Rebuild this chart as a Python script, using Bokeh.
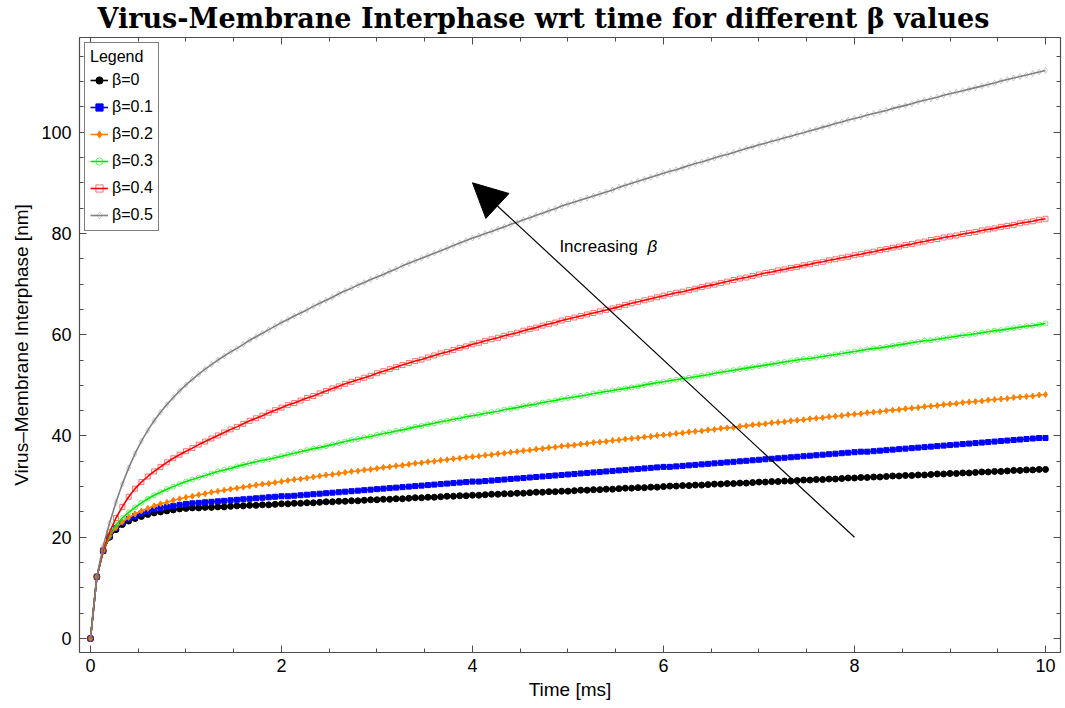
from bokeh.plotting import figure
from bokeh.models import (Range1d, LinearAxis, SingleIntervalTicker, Legend,
                          LegendItem, Arrow, NormalHead, Label, CustomLabelingPolicy)
from bokeh.embed import file_html
from bokeh.resources import INLINE

# sampling times [ms], step 1/15 ms from 0 to 10
time_ms = [round(k / 15, 4) for k in range(151)]

beta_labels = ["β=0", "β=0.1", "β=0.2", "β=0.3", "β=0.4", "β=0.5"]

# virus-membrane interphase [nm] for each beta
interphase_b00 = [
    0, 12.2, 17.3, 20.0, 21.5, 22.5, 23.2, 23.7, 24.1, 24.5, 24.8, 25.0, 25.2, 25.4, 25.6,
    25.7, 25.8, 25.8, 25.9, 25.9, 26.0, 26.0, 26.1, 26.2, 26.2, 26.3, 26.3, 26.4, 26.4, 26.5,
    26.6, 26.6, 26.7, 26.7, 26.8, 26.8, 26.9, 27.0, 27.0, 27.1, 27.1, 27.2, 27.2, 27.3, 27.4,
    27.4, 27.5, 27.5, 27.6, 27.6, 27.7, 27.8, 27.8, 27.9, 27.9, 28.0, 28.1, 28.1, 28.2, 28.2,
    28.3, 28.3, 28.4, 28.5, 28.5, 28.6, 28.6, 28.7, 28.7, 28.8, 28.9, 28.9, 29.0, 29.0, 29.1,
    29.1, 29.2, 29.3, 29.3, 29.4, 29.4, 29.5, 29.5, 29.6, 29.7, 29.7, 29.8, 29.8, 29.9, 29.9,
    30.0, 30.1, 30.1, 30.2, 30.2, 30.3, 30.3, 30.4, 30.5, 30.5, 30.6, 30.6, 30.7, 30.7, 30.8,
    30.9, 30.9, 31.0, 31.0, 31.1, 31.1, 31.2, 31.3, 31.3, 31.4, 31.4, 31.5, 31.5, 31.6, 31.7,
    31.7, 31.8, 31.8, 31.9, 31.9, 32.0, 32.1, 32.1, 32.2, 32.2, 32.3, 32.3, 32.4, 32.5, 32.5,
    32.6, 32.6, 32.7, 32.7, 32.8, 32.9, 32.9, 33.0, 33.0, 33.1, 33.2, 33.2, 33.3, 33.3, 33.4, 33.4,
]
interphase_b01 = [
    0, 12.2, 17.3, 20.1, 21.8, 22.8, 23.6, 24.2, 24.7, 25.1, 25.5, 25.8, 26.0, 26.2, 26.4,
    26.6, 26.7, 26.8, 26.9, 27.0, 27.1, 27.2, 27.3, 27.4, 27.5, 27.6, 27.7, 27.8, 27.9, 28.0,
    28.1, 28.1, 28.2, 28.3, 28.4, 28.5, 28.6, 28.7, 28.8, 28.9, 29.0, 29.1, 29.2, 29.3, 29.4,
    29.5, 29.6, 29.7, 29.8, 29.9, 30.0, 30.1, 30.2, 30.3, 30.4, 30.5, 30.6, 30.7, 30.8, 30.9,
    31.0, 31.0, 31.1, 31.2, 31.3, 31.4, 31.5, 31.6, 31.7, 31.8, 31.9, 32.0, 32.1, 32.2, 32.3,
    32.4, 32.5, 32.6, 32.7, 32.8, 32.9, 33.0, 33.1, 33.2, 33.3, 33.4, 33.5, 33.6, 33.7, 33.8,
    33.9, 33.9, 34.0, 34.1, 34.2, 34.3, 34.4, 34.5, 34.6, 34.7, 34.8, 34.9, 35.0, 35.1, 35.2,
    35.3, 35.4, 35.5, 35.6, 35.7, 35.8, 35.9, 36.0, 36.1, 36.2, 36.3, 36.4, 36.5, 36.6, 36.7,
    36.8, 36.9, 36.9, 37.0, 37.1, 37.2, 37.3, 37.4, 37.5, 37.6, 37.7, 37.8, 37.9, 38.0, 38.1,
    38.2, 38.3, 38.4, 38.5, 38.6, 38.7, 38.8, 38.9, 39.0, 39.1, 39.2, 39.3, 39.4, 39.5, 39.6, 39.6,
]
interphase_b02 = [
    0, 12.2, 17.3, 20.2, 21.9, 23.0, 23.9, 24.6, 25.2, 25.7, 26.2, 26.6, 26.9, 27.3, 27.6,
    27.9, 28.1, 28.4, 28.6, 28.9, 29.1, 29.3, 29.5, 29.7, 29.9, 30.1, 30.3, 30.5, 30.6, 30.8,
    31.0, 31.2, 31.4, 31.5, 31.7, 31.9, 32.1, 32.3, 32.4, 32.6, 32.8, 33.0, 33.1, 33.3, 33.4,
    33.6, 33.8, 33.9, 34.1, 34.2, 34.4, 34.6, 34.7, 34.9, 35.0, 35.2, 35.3, 35.5, 35.6, 35.8,
    35.9, 36.0, 36.2, 36.3, 36.5, 36.6, 36.8, 36.9, 37.1, 37.2, 37.4, 37.5, 37.7, 37.8, 38.0,
    38.1, 38.2, 38.4, 38.5, 38.7, 38.8, 38.9, 39.1, 39.2, 39.4, 39.5, 39.6, 39.8, 39.9, 40.1,
    40.2, 40.3, 40.5, 40.6, 40.8, 40.9, 41.0, 41.2, 41.3, 41.5, 41.6, 41.7, 41.9, 42.0, 42.2,
    42.3, 42.4, 42.6, 42.7, 42.8, 43.0, 43.1, 43.2, 43.4, 43.5, 43.6, 43.8, 43.9, 44.0, 44.2,
    44.3, 44.4, 44.6, 44.7, 44.8, 45.0, 45.1, 45.2, 45.4, 45.5, 45.6, 45.8, 45.9, 46.0, 46.2,
    46.3, 46.4, 46.6, 46.7, 46.8, 46.9, 47.1, 47.2, 47.3, 47.4, 47.6, 47.7, 47.8, 47.9, 48.1, 48.2,
]
interphase_b03 = [
    0, 12.2, 17.4, 20.5, 22.4, 23.8, 24.9, 25.9, 26.8, 27.6, 28.3, 28.9, 29.5, 30.0, 30.5,
    31.0, 31.4, 31.8, 32.2, 32.6, 33.0, 33.3, 33.6, 34.0, 34.3, 34.6, 34.9, 35.2, 35.4, 35.7,
    36.0, 36.3, 36.6, 36.9, 37.2, 37.5, 37.7, 38.0, 38.3, 38.6, 38.9, 39.2, 39.4, 39.7, 39.9,
    40.2, 40.5, 40.7, 41.0, 41.2, 41.5, 41.8, 42.0, 42.3, 42.5, 42.8, 43.0, 43.3, 43.5, 43.8,
    44.0, 44.2, 44.5, 44.7, 44.9, 45.2, 45.4, 45.6, 45.9, 46.1, 46.3, 46.6, 46.8, 47.0, 47.3,
    47.5, 47.7, 47.9, 48.1, 48.4, 48.6, 48.8, 49.0, 49.2, 49.4, 49.6, 49.8, 50.1, 50.3, 50.5,
    50.7, 50.9, 51.1, 51.3, 51.5, 51.7, 51.9, 52.1, 52.4, 52.6, 52.8, 53.0, 53.2, 53.4, 53.6,
    53.8, 54.0, 54.2, 54.4, 54.6, 54.8, 55.0, 55.2, 55.3, 55.5, 55.7, 55.9, 56.1, 56.3, 56.5,
    56.7, 56.9, 57.1, 57.3, 57.4, 57.6, 57.8, 58.0, 58.2, 58.4, 58.6, 58.8, 58.9, 59.1, 59.3,
    59.5, 59.7, 59.9, 60.0, 60.2, 60.4, 60.6, 60.8, 60.9, 61.1, 61.3, 61.5, 61.7, 61.8, 62.0, 62.2,
]
interphase_b04 = [
    0, 12.2, 17.5, 21.0, 23.8, 26.0, 28.0, 29.6, 30.9, 32.0, 33.0, 33.9, 34.8, 35.6, 36.3,
    37.0, 37.6, 38.3, 38.9, 39.5, 40.1, 40.7, 41.3, 41.8, 42.4, 43.0, 43.5, 44.0, 44.6, 45.1,
    45.6, 46.1, 46.5, 47.0, 47.5, 47.9, 48.4, 48.9, 49.4, 49.8, 50.3, 50.7, 51.1, 51.5, 51.9,
    52.4, 52.8, 53.2, 53.6, 54.0, 54.4, 54.8, 55.1, 55.5, 55.9, 56.3, 56.6, 57.0, 57.4, 57.7,
    58.1, 58.4, 58.8, 59.1, 59.4, 59.8, 60.1, 60.4, 60.8, 61.1, 61.4, 61.8, 62.1, 62.4, 62.8,
    63.1, 63.4, 63.7, 64.0, 64.3, 64.6, 64.9, 65.2, 65.5, 65.9, 66.2, 66.5, 66.8, 67.1, 67.4,
    67.7, 68.0, 68.3, 68.5, 68.8, 69.1, 69.4, 69.7, 69.9, 70.2, 70.5, 70.8, 71.1, 71.3, 71.6,
    71.9, 72.2, 72.4, 72.7, 72.9, 73.2, 73.4, 73.7, 73.9, 74.2, 74.4, 74.7, 74.9, 75.2, 75.4,
    75.7, 75.9, 76.2, 76.4, 76.7, 76.9, 77.2, 77.4, 77.7, 77.9, 78.2, 78.4, 78.7, 78.9, 79.2,
    79.4, 79.6, 79.9, 80.1, 80.3, 80.6, 80.8, 81.0, 81.3, 81.5, 81.7, 82.0, 82.2, 82.4, 82.7, 82.9,
]
interphase_b05 = [
    0, 12.2, 18.3, 22.8, 26.9, 30.5, 33.7, 36.5, 39.0, 41.1, 43.0, 44.7, 46.2, 47.6, 48.9,
    50.1, 51.2, 52.2, 53.2, 54.1, 55.0, 55.8, 56.6, 57.3, 58.1, 58.9, 59.6, 60.3, 61.0, 61.7,
    62.4, 63.0, 63.7, 64.3, 64.9, 65.6, 66.2, 66.8, 67.4, 68.1, 68.7, 69.2, 69.8, 70.3, 70.9,
    71.4, 71.9, 72.5, 73.0, 73.6, 74.1, 74.6, 75.1, 75.6, 76.1, 76.6, 77.1, 77.6, 78.1, 78.6,
    79.1, 79.5, 80.0, 80.4, 80.9, 81.3, 81.8, 82.2, 82.7, 83.1, 83.6, 84.0, 84.5, 84.9, 85.4,
    85.8, 86.2, 86.6, 87.0, 87.4, 87.8, 88.2, 88.6, 89.1, 89.5, 89.9, 90.3, 90.7, 91.1, 91.5,
    91.9, 92.3, 92.6, 93.0, 93.4, 93.8, 94.1, 94.5, 94.9, 95.3, 95.6, 96.0, 96.4, 96.8, 97.1,
    97.5, 97.8, 98.2, 98.5, 98.9, 99.2, 99.6, 99.9, 100.3, 100.6, 101.0, 101.3, 101.7, 102.0, 102.4,
    102.7, 103.0, 103.4, 103.7, 104.0, 104.3, 104.7, 105.0, 105.3, 105.6, 106.0, 106.3, 106.6, 106.9, 107.3,
    107.6, 107.9, 108.2, 108.5, 108.8, 109.1, 109.4, 109.7, 110.1, 110.4, 110.7, 111.0, 111.3, 111.6, 111.9, 112.2,
]

series = [interphase_b00, interphase_b01, interphase_b02,
          interphase_b03, interphase_b04, interphase_b05]

chart_title = "Virus-Membrane Interphase wrt time for different β values"

# annotation arrow (data coordinates): tail and tip
arrow_tail = (8.0, 20.0)
arrow_tip = (4.0, 90.0)
arrow_text_pos = (4.91, 77.4)

# per-series styling
colors = ["#000000", "#0000ff", "#ff8000", "#00e600", "#ff0000", "#808080"]
markers = ["circle", "square", "diamond", "circle", "square", "diamond"]
marker_sizes = [6, 5, 6, 5, 5, 6]
filled = [True, True, True, False, False, False]
open_alpha = [1, 1, 1, 0.55, 0.55, 0.4]

SANS = "Liberation Sans"
FRAME = "#4d4d4d"

p = figure(width=1065, height=708,
           min_border_left=79, min_border_right=3, min_border_top=35, min_border_bottom=56,
           x_range=Range1d(-0.115, 10.157), y_range=Range1d(-2.76, 118.7),
           output_backend="svg", toolbar_location=None, title=chart_title)

p.title.text_font = "DejaVu Serif"
p.title.text_font_style = "bold"
p.title.text_font_size = "27px"
p.title.text_color = "black"
p.title.align = "left"
p.title.offset = 18
p.title.standoff = 0

p.xgrid.visible = False
p.ygrid.visible = False
p.outline_line_color = FRAME
p.background_fill_color = "white"
p.border_fill_color = "white"

# policy that keeps no tick labels (used on the mirrored top/right frame axes)
no_labels = CustomLabelingPolicy(code="""
for (const i of indices) indices.unset(i)
return indices
""")


def style_axis(ax, show_labels=True):
    ax.major_tick_in = 7
    ax.major_tick_out = 0
    ax.minor_tick_in = 4
    ax.minor_tick_out = 0
    ax.axis_line_color = FRAME
    ax.axis_line_width = 1.2
    ax.major_tick_line_color = FRAME
    ax.minor_tick_line_color = FRAME
    ax.major_label_text_font = SANS
    ax.major_label_text_font_size = "18px" if show_labels else "1px"
    ax.major_label_text_color = "black"
    ax.axis_label_text_font = SANS
    ax.axis_label_text_font_size = "19px"
    ax.axis_label_text_font_style = "normal"
    ax.axis_label_text_color = "black"
    if not show_labels:
        ax.major_label_policy = no_labels


p.xaxis[0].ticker = SingleIntervalTicker(interval=2, num_minor_ticks=4)
p.yaxis[0].ticker = SingleIntervalTicker(interval=20, num_minor_ticks=4)
p.xaxis[0].axis_label = "Time [ms]"
p.yaxis[0].axis_label = "Virus–Membrane Interphase [nm]"
style_axis(p.xaxis[0])
style_axis(p.yaxis[0])
p.xaxis[0].major_label_standoff = 6
p.xaxis[0].axis_label_standoff = 4
p.yaxis[0].major_label_standoff = 8
p.yaxis[0].axis_label_standoff = 6

top_axis = LinearAxis(ticker=SingleIntervalTicker(interval=2, num_minor_ticks=4),
                      major_label_standoff=0)
style_axis(top_axis, show_labels=False)
p.add_layout(top_axis, "above")

right_axis = LinearAxis(ticker=SingleIntervalTicker(interval=20, num_minor_ticks=4),
                        major_label_standoff=0)
style_axis(right_axis, show_labels=False)
p.add_layout(right_axis, "right")

items = []
for vals, lab, col, mk, ms, fl, oa in zip(series, beta_labels, colors, markers,
                                          marker_sizes, filled, open_alpha):
    if fl:
        sc = p.scatter(time_ms, vals, marker=mk, size=ms, fill_color=col, line_color=col)
    else:
        sc = p.scatter(time_ms, vals, marker=mk, size=ms, fill_color=None,
                       line_color=col, line_alpha=oa, line_width=1)
    ln = p.line(time_ms, vals, line_color=col, line_width=1.6)
    items.append(LegendItem(label=lab, renderers=[sc, ln]))

legend = Legend(items=items, location="top_left", title="Legend")
legend.title_text_font = SANS
legend.title_text_font_size = "16px"
legend.title_text_font_style = "normal"
legend.title_text_color = "black"
legend.label_text_font = SANS
legend.label_text_font_size = "16px"
legend.label_text_color = "black"
legend.border_line_color = "black"
legend.border_line_width = 1
legend.margin = 5
legend.padding = 5
legend.spacing = 7
legend.glyph_width = 18
legend.glyph_height = 20
legend.label_height = 20
legend.label_standoff = 4
legend.title_standoff = 4
p.add_layout(legend)

p.add_layout(Arrow(end=NormalHead(size=34, fill_color="black", line_color="black"),
                   x_start=arrow_tail[0], y_start=arrow_tail[1],
                   x_end=arrow_tip[0], y_end=arrow_tip[1],
                   line_color="black", line_width=1.2))

p.add_layout(Label(x=arrow_text_pos[0], y=arrow_text_pos[1], text="Increasing",
                   text_baseline="middle", text_font=SANS, text_font_size="17px",
                   text_color="black"))
p.add_layout(Label(x=arrow_text_pos[0], y=arrow_text_pos[1], x_offset=88, text="β",
                   text_baseline="middle", text_font=SANS, text_font_size="17px",
                   text_font_style="italic", text_color="black"))

open("out.html", "w").write(file_html(p, INLINE))
